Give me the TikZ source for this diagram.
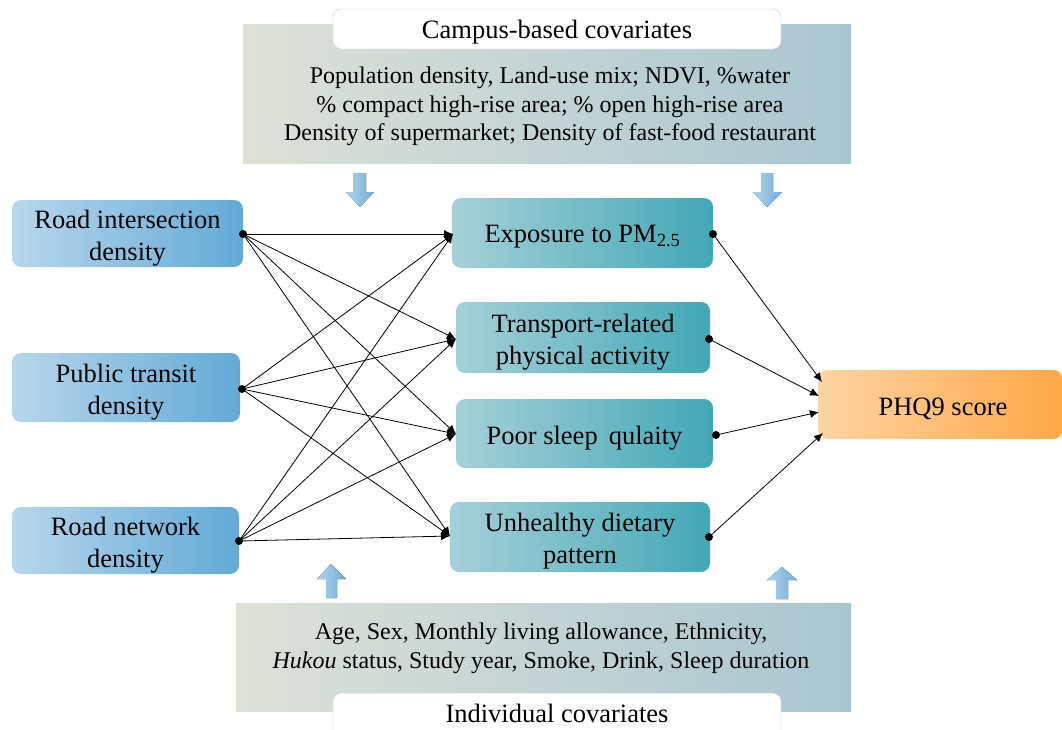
\documentclass[tikz,border=0pt]{standalone}
\usepackage{fontspec}
\setmainfont{Liberation Serif}
\usetikzlibrary{arrows.meta}
\definecolor{covL}{RGB}{222,225,216}
\definecolor{covR}{RGB}{168,198,208}
\definecolor{bluL}{RGB}{184,214,236}
\definecolor{bluR}{RGB}{98,170,214}
\definecolor{tealL}{RGB}{166,208,216}
\definecolor{tealR}{RGB}{66,168,182}
\definecolor{orL}{RGB}{255,212,165}
\definecolor{orR}{RGB}{255,168,70}
\definecolor{arL}{RGB}{178,212,234}
\definecolor{arR}{RGB}{112,172,216}
\tikzset{
  covbox/.style={left color=covL, right color=covR, draw=none},
  titlebox/.style={fill=white, draw=black!20, rounded corners=8pt},
  titletext/.style={font=\fontsize{26.5}{30}\selectfont},
  bluebox/.style={left color=bluL, right color=bluR, draw=none, rounded corners=9pt},
  tealbox/.style={left color=tealL, right color=tealR, draw=none, rounded corners=9pt},
  orbox/.style={left color=orL, right color=orR, draw=none, rounded corners=9pt},
  boxtext/.style={align=center, font=\fontsize{26.5}{32}\selectfont, inner sep=0pt},
  covtext/.style={align=center, font=\fontsize{24}{28.5}\selectfont},
  blockarr/.style={left color=arL, right color=arR, draw=none},
  link/.style={-{Latex[length=9pt,width=8pt]}, line width=0.8pt},
  dot/.style={circle, fill=black, inner sep=0pt, minimum size=8pt},
}
\begin{document}
\begin{tikzpicture}[x=1pt,y=-1pt]
\useasboundingbox (0,0) rectangle (1062,729);
% top covariates
\node[covbox, minimum width=608pt, minimum height=139pt] (topcov) at (547,93.5) {};
\node[titlebox, minimum width=448pt, minimum height=40pt] (toptitle) at (557,29) {};
\node[titletext] (toptitlet) at (557,32) {Campus-based covariates};
\node[covtext] (toptext) at (550,106.5) {Population density, Land-use mix; NDVI, \%water\\\% compact high-rise area; \% open high-rise area\\Density of supermarket; Density of fast-food restaurant};
% bottom covariates
\node[covbox, minimum width=615pt, minimum height=108pt] (botcov) at (543.5,657) {};
\node[covtext] (bottext) at (541,648) {Age, Sex, Monthly living allowance, Ethnicity,\\\textit{Hukou} status, Study year, Smoke, Drink, Sleep duration};
\node[titlebox, minimum width=448pt, minimum height=46pt, anchor=north] (bottitle) at (557,693) {};
\node[titletext] (bottitlet) at (557,713) {Individual covariates};
% block arrows
\fill[blockarr] (353,173) -- (366,173) -- (366,192) -- (374,192) -- (360,207) -- (346,192) -- (353,192) -- cycle;
\fill[blockarr] (761,173) -- (773,173) -- (773,192) -- (782,192) -- (767,207) -- (753,192) -- (761,192) -- cycle;
\fill[blockarr] (326,598) -- (337,598) -- (337,579) -- (346,579) -- (331,564) -- (317,579) -- (326,579) -- cycle;
\fill[blockarr] (776,599) -- (788,599) -- (788,580) -- (797,580) -- (782,567) -- (767,580) -- (776,580) -- cycle;
% left boxes
\node[bluebox, minimum width=231pt, minimum height=67pt] (rid) at (127.5,233.5) {};
\node[boxtext] (ridt) at (127.5,238) {Road intersection\\density};
\node[bluebox, minimum width=228pt, minimum height=69pt] (ptd) at (126,387.5) {};
\node[boxtext] (ptdt) at (126,392) {Public transit\\density};
\node[bluebox, minimum width=227pt, minimum height=67pt] (rnd) at (125.5,540.5) {};
\node[boxtext] (rndt) at (125.5,545) {Road network\\density};
% middle boxes
\node[tealbox, minimum width=261pt, minimum height=70pt] (pm) at (582.5,233) {};
\node[boxtext] (pmt) at (582.5,237) {Exposure to PM\textsubscript{2.5}};
\node[tealbox, minimum width=254pt, minimum height=71pt] (tpa) at (583,337.5) {};
\node[boxtext] (tpat) at (583,342) {Transport-related\\physical activity};
\node[tealbox, minimum width=257pt, minimum height=69pt] (sleep) at (584.5,433.5) {};
\node[boxtext] (sleept) at (584.5,438) {Poor sleep\,\ qulaity};
\node[tealbox, minimum width=260pt, minimum height=70pt] (diet) at (580,537) {};
\node[boxtext] (dirtt) at (580,541.5) {Unhealthy dietary\\pattern};
% outcome
\node[orbox, minimum width=244pt, minimum height=69pt, anchor=west] (phq) at (818,404.5) {};
\node[boxtext] (phqt) at (943,409) {PHQ9 score};
% dots
\node[dot] (d1) at (243,234) {};
\node[dot] (d2) at (242,389) {};
\node[dot] (d3) at (239,541) {};
\node[dot] (e1) at (713,234) {};
\node[dot] (e2) at (709,339) {};
\node[dot] (e3) at (716,435) {};
\node[dot] (e4) at (709,537) {};
% targets
\coordinate (t1) at (453,234);
\coordinate (t2) at (456,339);
\coordinate (t3) at (456,434);
\coordinate (t4) at (450,536);
\foreach \s in {d1,d2,d3}{
  \foreach \t in {t1,t2,t3,t4}{
    \draw[link] (\s.center) -- (\t);
  }
}
\coordinate (p1) at (822,382);
\coordinate (p2) at (819,396);
\coordinate (p3) at (819,412);
\coordinate (p4) at (823,433);
\draw[link] (e1.center) -- (p1);
\draw[link] (e2.center) -- (p2);
\draw[link] (e3.center) -- (p3);
\draw[link] (e4.center) -- (p4);
\end{tikzpicture}
\end{document}
